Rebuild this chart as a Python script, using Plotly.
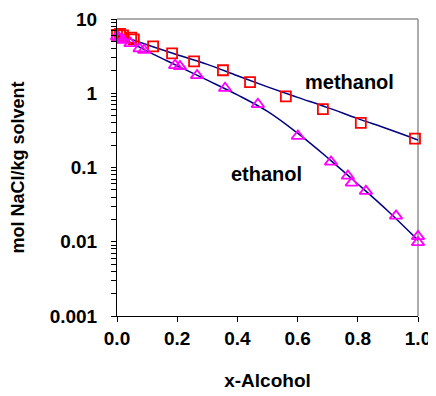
import plotly.graph_objects as go

# Measured data (mol NaCl / kg solvent vs alcohol mole fraction)
meoh_x = [0.0, 0.01, 0.02, 0.047, 0.056, 0.12, 0.183, 0.256, 0.352, 0.442, 0.561, 0.684, 0.81, 0.99]
meoh_y = [6.1, 6.3, 6.0, 5.6, 5.3, 4.27, 3.44, 2.69, 2.04, 1.41, 0.91, 0.61, 0.40, 0.245]

etoh_x = [0.0, 0.008, 0.02, 0.045, 0.075, 0.09, 0.193, 0.209, 0.266, 0.359, 0.468, 0.601,
          0.711, 0.767, 0.78, 0.827, 0.927, 1.0, 1.0]
etoh_y = [5.8, 5.5, 5.2, 4.7, 4.0, 3.8, 2.38, 2.3, 1.74, 1.17, 0.71, 0.265,
          0.119, 0.077, 0.062, 0.048, 0.0223, 0.0118, 0.0098]

# Fitted curves
fit_x = [0.0, 0.1, 0.2, 0.3, 0.4, 0.5, 0.6, 0.7, 0.8, 0.9, 1.0]
meoh_fit = [6.2, 4.5, 3.3, 2.45, 1.72, 1.22, 0.88, 0.64, 0.455, 0.33, 0.235]
etoh_fit = [6.0, 3.7, 2.35, 1.5, 0.95, 0.57, 0.29, 0.135, 0.06, 0.026, 0.0105]

y_tickvals = [0.001, 0.01, 0.1, 1, 10]
y_ticktext = ["0.001", "0.01", "0.1", "1", "10"]
x_tickvals = [0.0, 0.2, 0.4, 0.6, 0.8, 1.0]
x_ticktext = ["0.0", "0.2", "0.4", "0.6", "0.8", "1.0"]

# minor tick positions (unlabelled)
minor_vals = [m * 10 ** e for e in range(-3, 1) for m in range(2, 10)]

FONT = "Liberation Sans, Arial, sans-serif"
NAVY = "#000080"


def bold(size):
    return dict(family=FONT, size=size, color="black", weight="bold")


fig = go.Figure()
fig.add_trace(go.Scatter(x=fit_x, y=meoh_fit, mode="lines", line=dict(color=NAVY, width=1.5, shape="spline"),
                         showlegend=False, hoverinfo="skip"))
fig.add_trace(go.Scatter(x=fit_x, y=etoh_fit, mode="lines", line=dict(color=NAVY, width=1.5, shape="spline"),
                         showlegend=False, hoverinfo="skip"))
fig.add_trace(go.Scatter(x=meoh_x, y=meoh_y, mode="markers",
                         marker=dict(symbol="square-open", size=10, color="#FF0000", line=dict(width=1.8)),
                         showlegend=False, cliponaxis=False))
fig.add_trace(go.Scatter(x=etoh_x, y=etoh_y, mode="markers",
                         marker=dict(symbol="triangle-up-open", size=11, color="#FF00FF", line=dict(width=1.8)),
                         showlegend=False, cliponaxis=False))

fig.add_annotation(x=0.774, y=0.146, xref="x", yref="y", text="methanol", showarrow=False, font=bold(20))
fig.add_annotation(x=0.498, y=-1.087, xref="x", yref="y", text="ethanol", showarrow=False, font=bold(20))

# grey top/right frame
fig.add_shape(type="line", xref="paper", yref="paper", x0=0, x1=1, y0=1, y1=1,
              line=dict(color="#909090", width=1.5), layer="below")
fig.add_shape(type="line", xref="paper", yref="paper", x0=1, x1=1, y0=0, y1=1,
              line=dict(color="#909090", width=1.5), layer="below")

# page body has an 8px margin; size/margins compensate for it
fig.update_layout(
    width=428, height=388,
    margin=dict(l=109, r=18, t=11, b=80, autoexpand=False),
    paper_bgcolor="white", plot_bgcolor="white",
    font=bold(19),
)
fig.update_xaxes(range=[0, 1], tickvals=x_tickvals, ticktext=x_ticktext, tickfont=bold(19), automargin=False,
                 ticks="outside", ticklen=5, tickcolor="black", tickwidth=1,
                 showline=True, linecolor="black", linewidth=1, showgrid=False, zeroline=False,
                 title=dict(text="x-Alcohol", font=bold(19), standoff=25))
fig.update_yaxes(type="log", range=[-3, 1], automargin=False,
                 tickvals=y_tickvals + minor_vals,
                 ticktext=y_ticktext + [""] * len(minor_vals), tickfont=bold(19),
                 ticks="outside", ticklen=5, tickcolor="black", tickwidth=1, ticklabelstandoff=10,
                 showline=True, linecolor="black", linewidth=1, showgrid=False, zeroline=False,
                 title=dict(text="mol NaCl/kg solvent", font=bold(18), standoff=20))

fig.write_html("out.html")
